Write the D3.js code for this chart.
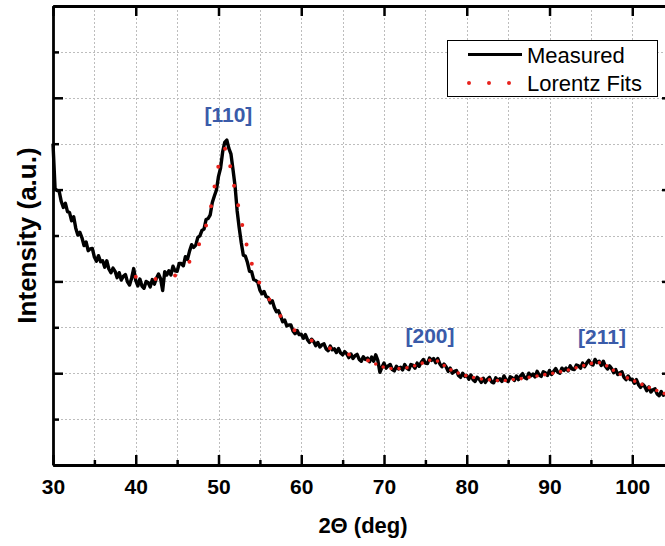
<!DOCTYPE html>
<html><head><meta charset="utf-8">
<script src="https://cdn.jsdelivr.net/npm/d3@7"></script>
<style>body{margin:0;background:#fff}svg{display:block}</style>
</head><body><svg id="c" width="665" height="546"></svg>
<script>
// ---- data (2Theta in degrees, intensity in arbitrary units) ----
// measured pattern sampled every 0.25 deg from 30 to 104 deg
const measuredStart = 30, measuredStep = 0.25;
const measuredY = [
7.00,6.02,5.98,5.96,5.74,5.61,5.70,5.52,5.50,5.32,5.41,5.16,5.01,5.07,4.95,4.78,
4.86,4.67,4.71,4.72,4.53,4.44,4.56,4.43,4.45,4.31,4.45,4.27,4.19,4.29,4.22,4.08,
4.19,4.03,4.11,4.15,3.99,3.92,4.07,4.28,4.02,3.90,4.05,3.90,3.85,4.00,3.97,3.88,
4.04,3.94,4.07,4.16,4.06,3.80,4.21,4.14,4.23,4.14,4.33,4.23,4.22,4.39,4.39,4.34,
4.54,4.48,4.66,4.80,4.74,4.79,4.96,4.99,5.11,5.14,5.35,5.37,5.45,5.72,5.86,5.99,
6.29,6.47,6.82,7.03,7.08,6.90,6.78,6.44,6.08,5.54,5.17,4.84,4.57,4.55,4.41,4.22,
4.21,4.04,4.02,3.98,3.81,3.73,3.78,3.67,3.65,3.53,3.58,3.43,3.34,3.36,3.25,3.12,
3.16,3.03,3.05,3.05,2.92,2.86,2.93,2.84,2.85,2.76,2.84,2.73,2.67,2.74,2.69,2.60,
2.67,2.57,2.62,2.64,2.53,2.49,2.59,2.51,2.53,2.45,2.54,2.44,2.40,2.47,2.42,2.34,
2.42,2.32,2.38,2.41,2.30,2.26,2.36,2.30,2.33,2.25,2.35,2.26,2.40,2.28,2.02,2.13,
2.22,2.11,2.16,2.19,2.08,2.05,2.15,2.09,2.13,2.07,2.19,2.11,2.08,2.19,2.17,2.11,
2.22,2.15,2.24,2.30,2.22,2.21,2.33,2.28,2.32,2.23,2.32,2.20,2.14,2.20,2.14,2.04,
2.11,2.00,2.04,2.06,1.95,1.91,2.00,1.93,1.95,1.87,1.96,1.86,1.82,1.91,1.87,1.80,
1.89,1.80,1.87,1.91,1.81,1.79,1.90,1.84,1.88,1.82,1.94,1.85,1.82,1.92,1.90,1.84,
1.94,1.86,1.94,1.99,1.90,1.88,2.00,1.94,1.98,1.92,2.04,1.96,1.93,2.03,2.01,1.95,
2.06,1.97,2.04,2.10,2.02,2.00,2.11,2.06,2.11,2.05,2.16,2.09,2.08,2.18,2.16,2.11,
2.22,2.14,2.22,2.28,2.20,2.18,2.30,2.23,2.26,2.17,2.26,2.15,2.09,2.16,2.10,2.01,
2.08,1.97,2.01,2.03,1.91,1.86,1.94,1.86,1.87,1.78,1.86,1.75,1.69,1.76,1.71,1.62,
1.70,1.59,1.64,1.66,1.55,1.51,1.60,1.52,1.54];
const measuredX = measuredY.map((v,i)=>measuredStart + i*measuredStep);
// Lorentz fit of the [110] peak, every 0.5 deg from 40 to 69 deg
const fit110Start = 40, fitStep = 0.5;
const fit110Y = [
4.10,4.08,4.06,4.05,4.05,4.05,4.06,4.07,4.09,4.11,4.15,4.22,4.32,4.43,4.58,4.75,
4.95,5.22,5.55,6.05,6.52,6.85,6.90,6.42,5.98,5.55,5.12,4.72,4.40,4.15,3.95,3.80,
3.65,3.50,3.36,3.24,3.13,3.04,2.96,2.89,2.83,2.78,2.74,2.69,2.65,2.61,2.57,2.54,
2.51,2.48,2.45,2.42,2.40,2.37,2.34,2.31,2.28,2.24,2.20];
// Lorentz fits of the [200] and [211] peaks, every 0.5 deg from 69 to 104 deg
const fitHighStart = 69;
const fitHighY = [
2.20,2.16,2.13,2.11,2.10,2.10,
2.10,2.11,2.13,2.15,2.18,2.21,2.25,2.28,2.29,2.26,2.20,2.14,2.08,2.04,2.00,1.97,
1.94,1.92,1.90,1.88,1.87,1.86,1.85,1.84,1.84,1.84,1.85,1.86,1.87,1.88,1.90,1.91,
1.93,1.94,1.96,1.97,1.99,2.00,2.02,2.04,2.06,2.08,2.11,2.13,2.16,2.18,2.21,2.23,
2.23,2.20,2.15,2.09,2.03,1.98,1.93,1.89,1.85,1.81,1.77,1.73,1.69,1.65,1.62,1.58,
1.55];
const fit110X = fit110Y.map((v,i)=>fit110Start + i*fitStep);
const fitHighX = fitHighY.map((v,i)=>fitHighStart + i*fitStep);
const xMajorTicks = [30,40,50,60,70,80,90,100];
const xMinorTicks = [35,45,55,65,75,85,95];
const xGridTicks = [35,40,45,50,55,60,65,70,75,80,85,90,95,100];
const yMajorTicks = [0,2,4,6,8,10];
const yMinorTicks = [1,3,5,7,9];
const yGridTicks = [1,2,3,4,5,6,7,8,9];
const peakLabels = ["[110]","[200]","[211]"];
const peakLabelX = [51.2,75.56,96.34];
const peakLabelY = [7.47,2.66,2.64];
const legendLabels = ["Measured","Lorentz Fits"];
const xTitle = "2\u0398 (deg)";
const yTitle = "Intensity (a.u.)";

// ---- chart ----
const svg = d3.select("#c");
const L = 53, T = 6, B = 465, R = 672;
const xs = d3.scaleLinear().domain([30,104.8]).range([L,R]);
const ys = d3.scaleLinear().domain([0,10]).range([B,T]);
const font = "'Liberation Sans', Arial, sans-serif";
const red = "#e8221c";

// grid
const grid = svg.append("g").attr("stroke","#bdbdbd").attr("stroke-width",1).attr("stroke-dasharray","2,2");
grid.selectAll("line.v").data(xGridTicks).join("line").attr("class","v")
  .attr("x1",d=>Math.round(xs(d))+0.5).attr("x2",d=>Math.round(xs(d))+0.5).attr("y1",T).attr("y2",B);
grid.selectAll("line.h").data(yGridTicks).join("line").attr("class","h")
  .attr("y1",d=>Math.round(ys(d))+0.5).attr("y2",d=>Math.round(ys(d))+0.5).attr("x1",L).attr("x2",R);

// measured
const mPts = measuredX.map((d,i)=>[d,measuredY[i]]);
const lineGen = d3.line().x(d=>xs(d[0])).y(d=>ys(d[1]));
svg.append("path").datum(mPts).attr("d",lineGen).attr("fill","none")
  .attr("stroke","#000").attr("stroke-width",3.4).attr("stroke-linejoin","round");

// fits (dotted red)
const fitGen = d3.line().x(d=>xs(d[0])).y(d=>ys(d[1])).curve(d3.curveMonotoneX);
svg.append("path").datum(fit110X.map((d,i)=>[d,fit110Y[i]])).attr("d",fitGen)
  .attr("fill","none").attr("stroke",red).attr("stroke-width",4)
  .attr("stroke-linecap","round").attr("stroke-dasharray","0,20");
svg.append("path").datum(fitHighX.map((d,i)=>[d,fitHighY[i]])).attr("d",fitGen)
  .attr("fill","none").attr("stroke",red).attr("stroke-width",3.6)
  .attr("stroke-linecap","round").attr("stroke-dasharray","0,8");

// axes
function styleAxis(g){
  g.select(".domain").attr("stroke","#000").attr("stroke-width",2.8);
  g.selectAll(".tick line").attr("stroke","#000").attr("stroke-width",2.5);
  g.selectAll(".tick text").attr("font-family",font).attr("font-weight","bold").attr("font-size",21).attr("fill","#000");
}
const axB = svg.append("g").attr("transform",`translate(0,${B})`)
  .call(d3.axisBottom(xs).tickValues(xMajorTicks).tickSizeInner(-10).tickSizeOuter(0).tickPadding(14).tickFormat(d3.format("d")));
styleAxis(axB);
svg.append("g").attr("transform",`translate(0,${B})`)
  .call(d3.axisBottom(xs).tickValues(xMinorTicks).tickSizeInner(-5).tickSizeOuter(0).tickFormat(""))
  .call(g=>{g.select(".domain").remove(); g.selectAll(".tick line").attr("stroke","#000").attr("stroke-width",2.5);});
const axT = svg.append("g").attr("transform",`translate(0,${T})`)
  .call(d3.axisTop(xs).tickValues(xMajorTicks).tickSizeInner(-10).tickSizeOuter(0).tickFormat(""));
styleAxis(axT);
const axL = svg.append("g").attr("transform",`translate(${L},0)`)
  .call(d3.axisLeft(ys).tickValues(yMajorTicks).tickSizeInner(-10).tickSizeOuter(0).tickFormat(""));
styleAxis(axL);
svg.append("g").attr("transform",`translate(${L},0)`)
  .call(d3.axisLeft(ys).tickValues(yMinorTicks).tickSizeInner(-6).tickSizeOuter(0).tickFormat(""))
  .call(g=>{g.select(".domain").remove(); g.selectAll(".tick line").attr("stroke","#000").attr("stroke-width",2.5);});
const axR = svg.append("g").attr("transform",`translate(${R},0)`)
  .call(d3.axisRight(ys).tickValues(yMajorTicks).tickSizeInner(-10).tickSizeOuter(0).tickFormat(""));
styleAxis(axR);

// axis titles
svg.append("text").attr("x",363).attr("y",533).attr("text-anchor","middle")
  .attr("font-family",font).attr("font-weight","bold").attr("font-size",22).text(xTitle);
svg.append("text").attr("transform",`translate(36,${(T+B)/2}) rotate(-90)`).attr("text-anchor","middle")
  .attr("font-family",font).attr("font-weight","bold").attr("font-size",26).text(yTitle);

// peak labels
svg.selectAll("text.pk").data(peakLabels).join("text").attr("class","pk")
  .attr("x",(d,i)=>xs(peakLabelX[i])).attr("y",(d,i)=>ys(peakLabelY[i]))
  .attr("text-anchor","middle").attr("font-family",font).attr("font-weight","bold")
  .attr("font-size",21).attr("fill","#3a5ba9").text(d=>d);

// legend
const lg = svg.append("g");
lg.append("rect").attr("x",447.5).attr("y",40.5).attr("width",210).attr("height",56)
  .attr("fill","#fff").attr("stroke","#000").attr("stroke-width",1);
lg.append("line").attr("x1",468).attr("x2",522).attr("y1",54.5).attr("y2",54.5)
  .attr("stroke","#000").attr("stroke-width",3);
lg.append("line").attr("x1",469).attr("x2",510).attr("y1",83).attr("y2",83)
  .attr("stroke",red).attr("stroke-width",4).attr("stroke-linecap","round").attr("stroke-dasharray","0,20");
lg.selectAll("text.lt").data(legendLabels).join("text").attr("class","lt")
  .attr("x",527).attr("y",(d,i)=>i===0?63:91).attr("font-family",font).attr("font-size",22).text(d=>d);
</script></body></html>
